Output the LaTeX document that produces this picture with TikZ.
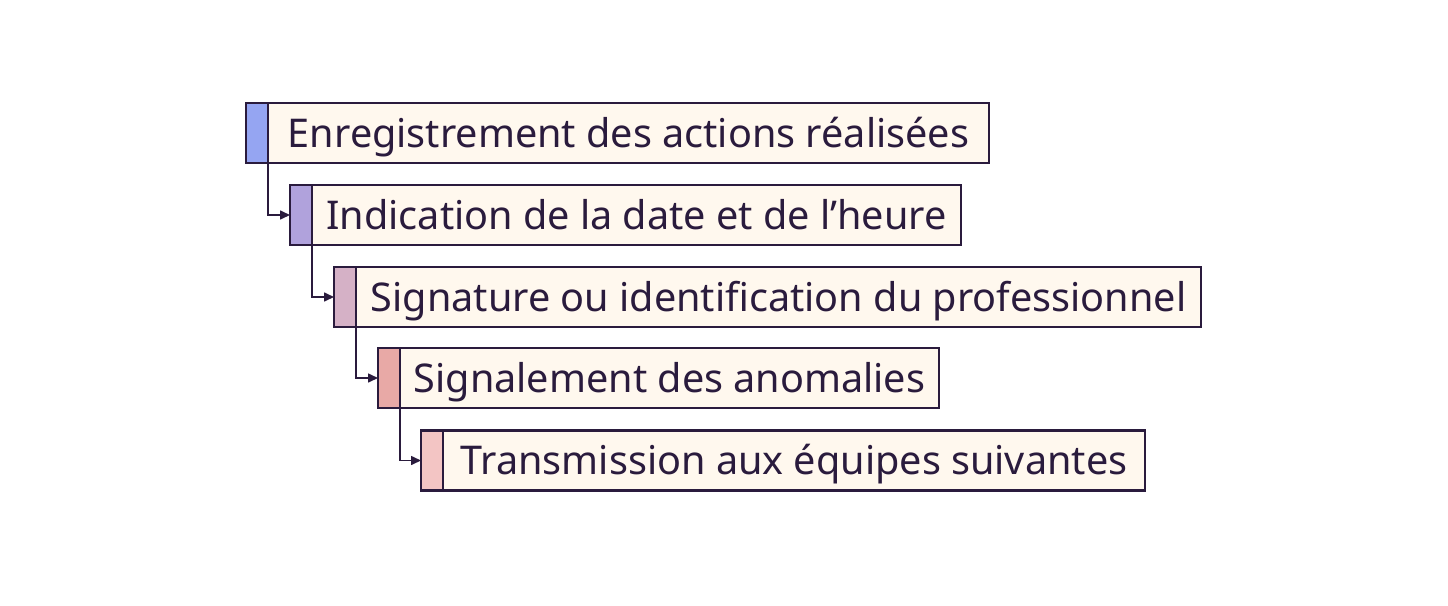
\documentclass[tikz,border=0pt]{standalone}
\usepackage{fontspec}
\setmainfont{Noto Sans}
\usepackage{tikz}
\usetikzlibrary{arrows.meta,positioning}

\definecolor{ink}{HTML}{2A1B3D}
\definecolor{paper}{HTML}{FFF8EE}
\definecolor{stripA}{HTML}{95A5F2}
\definecolor{stripB}{HTML}{B0A2DC}
\definecolor{stripC}{HTML}{D5B1C6}
\definecolor{stripD}{HTML}{E8A9A6}
\definecolor{stripE}{HTML}{F3C5C4}

\begin{document}
\begin{tikzpicture}[x=1pt, y=-1pt, >={Triangle[length=10pt,width=9pt]},
  strip/.style={draw=ink, line width=2.2pt, minimum width=22pt, minimum height=60pt, inner sep=0pt, outer sep=0pt},
  label box/.style={draw=ink, line width=2.2pt, fill=paper, minimum height=60pt, inner sep=0pt, outer sep=0pt, anchor=west, text=ink, text height=30pt, text depth=2pt, font=\fontsize{39.6}{47}\selectfont},
  link/.style={draw=ink, line width=1.6pt, ->}]

\useasboundingbox (0,0) rectangle (1448,605);

% colour strips
\node [strip, fill=stripA] (s1) at (257,133){};
\node [strip, fill=stripB] (s2) at (301,215){};
\node [strip, fill=stripC] (s3) at (345,297){};
\node [strip, fill=stripD] (s4) at (389,378){};
\node [strip, fill=stripE] (s5) at (432,460.5){};

% labels
\node [label box, minimum width=721pt] (b1) at (s1.east){Enregistrement des actions réalisées};
\node [label box, minimum width=649pt] (b2) at (s2.east){Indication de la date et de l’heure};
\node [label box, minimum width=845pt] (b3) at (s3.east){Signature ou identification du professionnel};
\node [label box, minimum width=539pt] (b4) at (s4.east){Signalement des anomalies};
\node [label box, minimum width=702pt] (b5) at (s5.east){Transmission aux équipes suivantes};

% steps
\draw [link] (s1.south east) |- (s2.west);
\draw [link] (s2.south east) |- (s3.west);
\draw [link] (s3.south east) |- (s4.west);
\draw [link] (s4.south east) |- (s5.west);

\end{tikzpicture}
\end{document}
